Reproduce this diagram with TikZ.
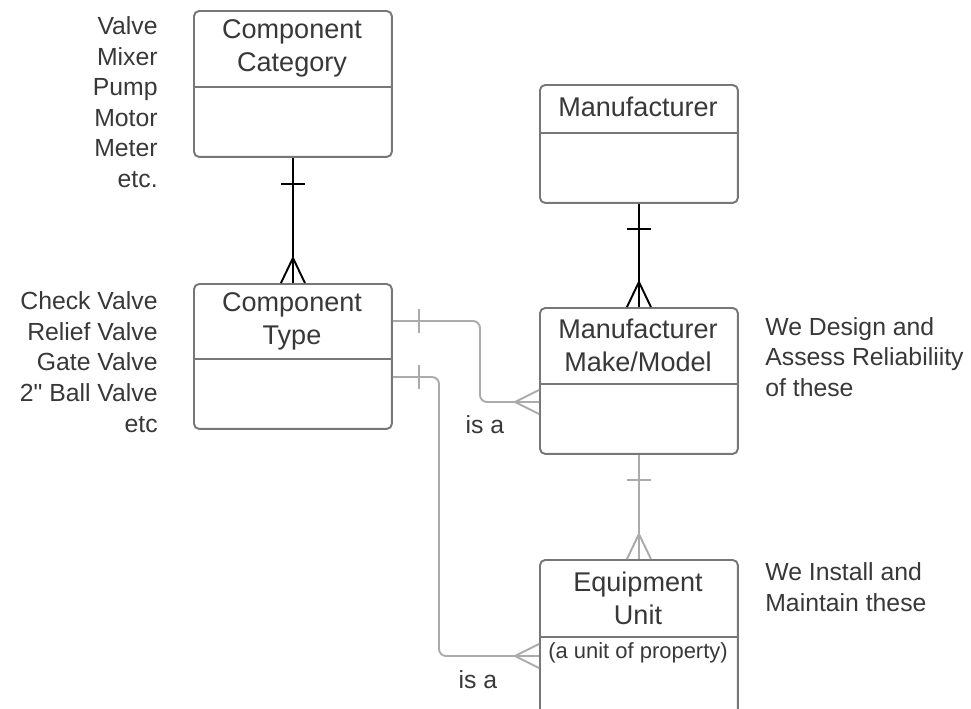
\documentclass[tikz,border=0pt]{standalone}
\usepackage{fontspec}
\setmainfont{Liberation Sans}
\newfontfamily\rawfont[Ligatures=ResetAll]{Liberation Sans}
\usepackage{tikz}
\usetikzlibrary{calc}
\definecolor{boxgray}{HTML}{777777}
\definecolor{txtgray}{HTML}{383838}
\definecolor{linkgray}{HTML}{ABABAB}

\begin{document}
\begin{tikzpicture}[x=0.02cm,y=-0.02cm,
  every node/.style={text=txtgray,inner sep=0pt},
  entity/.style={draw=boxgray,line width=1.1pt,rounded corners=3pt,minimum width=3.96cm,anchor=north west},
  divider/.style={draw=boxgray,line width=1.1pt},
  title/.style={align=center,font=\fontsize{15.4}{18.8}\selectfont},
  note/.style={font=\fontsize{14.1}{17.4}\selectfont},
  rel/.style={line width=1.1pt,draw=black},
  isa/.style={line width=1.1pt,draw=linkgray}]
\useasboundingbox (0,0) rectangle (971,708);
% Component Category
\node[entity,minimum height=2.92cm] (cat) at (193,10) {};
\node[title] (catT) at (292,48) {Component\\Category};
\draw[divider] (cat.west |- 0,87) -- (cat.east |- 0,87);
\node[note,align=right,anchor=east] (catEx) at (158,102) {Valve\\Mixer\\Pump\\Motor\\Meter\\etc.};
% Component Type
\node[entity,minimum height=2.9cm] (ctype) at (193,283) {};
\node[title] (ctypeT) at (292,321) {Component\\Type};
\draw[divider] (ctype.west |- 0,359) -- (ctype.east |- 0,359);
\node[note,align=right,anchor=east] (ctypeEx) at (158,362) {Check Valve\\Relief Valve\\Gate Valve\\2{\rawfont"} Ball Valve\\etc};
% Manufacturer
\node[entity,minimum height=2.36cm] (mfr) at (539,84) {};
\node[title] (mfrT) at (638,107) {Manufacturer};
\draw[divider] (mfr.west |- 0,133) -- (mfr.east |- 0,133);
% Manufacturer Make/Model
\node[entity,minimum height=2.92cm] (model) at (539,307) {};
\node[title] (modelT) at (638,345) {Manufacturer\\Make/Model};
\draw[divider] (model.west |- 0,384) -- (model.east |- 0,384);
\node[note,align=left,anchor=west] (modelNote) at (765,357) {We Design and\\Assess Reliabiliity\\of these};
% Equipment Unit
\node[entity,minimum height=3.3cm] (equip) at (539,559) {};
\node[title] (equipT) at (638,598) {Equipment\\Unit};
\draw[divider] (equip.west |- 0,637) -- (equip.east |- 0,637);
\node[font=\fontsize{12.5}{15}\selectfont] (equipS) at (638,653) {(a unit of property)};
\node[note,align=left,anchor=west] (equipNote) at (765,587) {We Install and\\Maintain these};
% category -- type
\draw[rel] (cat.south) -- (ctype.north);
\draw[rel] ($(cat.south)+(-12,26)$) -- ++(24,0);
\draw[rel] ($(ctype.north)+(-12,0)$) -- ++(12,-25) -- ++(12,25);
% manufacturer -- make/model
\draw[rel] (mfr.south) -- (model.north);
\draw[rel] ($(mfr.south)+(-12,25)$) -- ++(24,0);
\draw[rel] ($(model.north)+(-12,0)$) -- ++(12,-25) -- ++(12,25);
% make/model -- equipment
\draw[isa] (model.south) -- (equip.north);
\draw[isa] ($(model.south)+(-12,25)$) -- ++(24,0);
\draw[isa] ($(equip.north)+(-12,0)$) -- ++(12,-25) -- ++(12,25);
% type is a make/model
\coordinate (bendA) at (480,402);
\draw[isa,rounded corners=4pt] (ctype.east |- 0,321) -| (bendA) -- (model.west |- bendA);
\draw[isa] ($(ctype.east |- 0,321)+(26,-12)$) -- ++(0,24);
\draw[isa] ($(model.west |- bendA)+(0,-12)$) -- ++(-24,12) -- ++(24,12);
\node[note] (isaA) at (485,425) {is a};
% type is a equipment
\coordinate (bendB) at (439,656);
\draw[isa,rounded corners=4pt] (ctype.east |- 0,377) -| (bendB) -- (equip.west |- bendB);
\draw[isa] ($(ctype.east |- 0,377)+(26,-12)$) -- ++(0,24);
\draw[isa] ($(equip.west |- bendB)+(0,-12)$) -- ++(-24,12) -- ++(24,12);
\node[note] (isaB) at (478,680) {is a};
\end{tikzpicture}
\end{document}
